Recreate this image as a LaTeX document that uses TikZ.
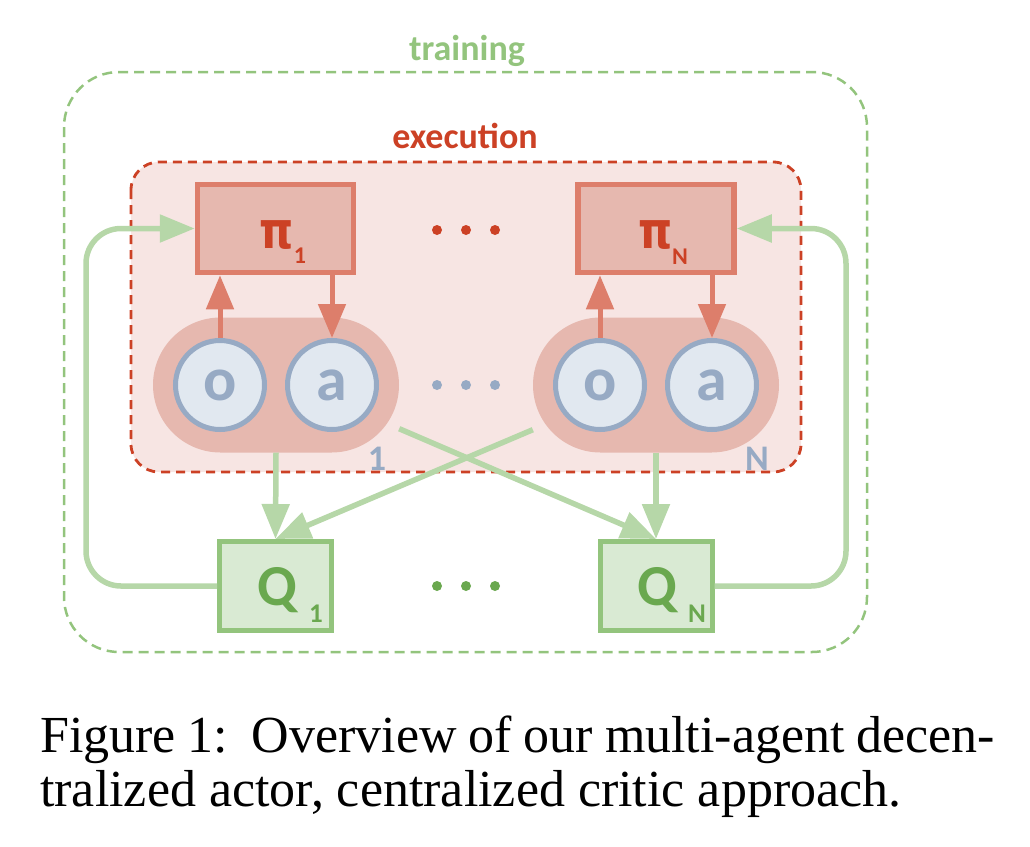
\documentclass[tikz,border=0pt]{standalone}
\usepackage{fontspec}
\setmainfont{Liberation Serif}
\newfontfamily\labfont{Carlito}
\newfontfamily\pifont[FakeStretch=0.85]{DejaVu Sans}
\usetikzlibrary{arrows.meta,calc}
\definecolor{trgreen}{HTML}{93C47D}
\definecolor{argreen}{HTML}{B6D7A8}
\definecolor{txgreen}{HTML}{6AA84F}
\definecolor{qfill}{HTML}{D9EAD3}
\definecolor{exred}{HTML}{CC4125}
\definecolor{exfill}{HTML}{F7E5E3}
\definecolor{pifill}{HTML}{E6B8AF}
\definecolor{piline}{HTML}{DD7E6B}
\definecolor{cfill}{HTML}{E1E8F0}
\definecolor{cline}{HTML}{97AAC4}
\tikzset{
  lab/.style={font=\labfont\bfseries\fontsize{36}{36}\selectfont, inner sep=0pt, anchor=base},
  pibox/.style={draw=piline, fill=pifill, line width=5.5pt, minimum width=156pt, minimum height=88pt, inner sep=0pt},
  qbox/.style={draw=trgreen, fill=qfill, line width=5pt, minimum width=112pt, minimum height=89pt, inner sep=0pt},
  pill/.style={fill=pifill, minimum width=246pt, minimum height=135pt, rounded corners=67.5pt, inner sep=0pt},
  obs/.style={circle, draw=cline, fill=cfill, line width=5pt, minimum size=89pt, inner sep=0pt, text=cline, font=\labfont\bfseries\fontsize{62}{62}\selectfont},
  rarrow/.style={draw=piline, line width=5pt, -{Triangle[length=34pt,width=27pt]}},
  garrow/.style={draw=argreen, line width=5.5pt, -{Triangle[length=35pt,width=27pt]}},
  bigsym/.style={font=\labfont\bfseries\fontsize{58}{58}\selectfont, inner sep=0pt, anchor=base},
  pisym/.style={font=\pifont\bfseries\fontsize{51}{51}\selectfont, inner sep=0pt, anchor=base},
  subsym/.style={font=\labfont\bfseries\fontsize{24}{24}\selectfont, inner sep=0pt, anchor=base},
  dotstyle/.style={circle, inner sep=0pt, minimum size=10pt},
  captext/.style={font=\fontsize{52}{52}\selectfont, inner sep=0pt, anchor=base west}
}
\begin{document}
\begin{tikzpicture}[x=1pt,y=-1pt]
\useasboundingbox (0,0) rectangle (1030,846);
% training box
\draw[trgreen, line width=2.5pt, dash pattern=on 10pt off 6pt, rounded corners=55pt] (64,72) rectangle (867,652);
\node[lab, text=trgreen] (trlab) at (467,60) {training};
% execution box
\draw[exred, fill=exfill, line width=2.8pt, dash pattern=on 9pt off 6pt, rounded corners=28pt] (131,162) rectangle (801,472);
\node[lab, text=exred] (exlab) at (465,148) {execution};
% pills
\node[pill] (pill1) at (276,385) {};
\node[pill] (pillN) at (656,385) {};
\node[obs] (o1) at (220,385) {o};
\node[obs] (a1) at (332,385) {a};
\node[obs] (oN) at (600,385) {o};
\node[obs] (aN) at (712,385) {a};
\node[lab, text=cline] (n1) at (377,470) {1};
\node[lab, text=cline] (nN) at (757,470) {N};
% policy boxes
\node[pibox] (p1) at (275.5,228.5) {};
\node[pibox] (pN) at (656,228.5) {};
\node[pisym, text=exred] (p1t) at (277,248) {π};
\node[subsym, text=exred] (p1s) at (300,263) {1};
\node[pisym, text=exred] (pNt) at (656,248) {π};
\node[subsym, text=exred] (pNs) at (680,264) {N};
% red arrows
\draw[rarrow] (o1.north) -- (o1.north |- p1.south);
\draw[rarrow] (a1.north |- p1.south) -- (a1.north);
\draw[rarrow] (oN.north) -- (oN.north |- pN.south);
\draw[rarrow] (aN.north |- pN.south) -- (aN.north);
% dots
\foreach \x/\c/\y/\n in {437/exred/230/r1,466/exred/230/r2,495/exred/230/r3,437/cline/385/b1,466/cline/385/b2,495/cline/385/b3,437/txgreen/586/g1,466/txgreen/586/g2,495/txgreen/586/g3}
  \node[dotstyle, fill=\c] (dot\n) at (\x,\y) {};
% critics
\node[qbox] (Q1) at (275.5,586) {};
\node[qbox] (QN) at (656,586) {};
\node[bigsym, text=txgreen] (Q1t) at (277,605) {Q};
\node[subsym, text=txgreen, font=\labfont\bfseries\fontsize{27}{27}\selectfont] (Q1s) at (316,622) {1};
\node[bigsym, text=txgreen] (QNt) at (657,605) {Q};
\node[subsym, text=txgreen, font=\labfont\bfseries\fontsize{27}{27}\selectfont] (QNs) at (697,622) {N};
% green arrows
\draw[garrow] (pill1.south) -- (Q1.north);
\draw[garrow] (pillN.south) -- (QN.north);
\draw[garrow] ($(pillN.south west)+(0,-23)$) -- (Q1.north);
\draw[garrow] ($(pill1.south east)+(0,-24)$) -- (QN.north);
% feedback
\coordinate (fbL) at (86,400);
\coordinate (fbR) at (846,400);
\draw[garrow, rounded corners=35pt] (Q1.west) -| (fbL) |- (p1.west);
\draw[garrow, rounded corners=35pt] (QN.east) -| (fbR) |- (pN.east);
% caption
\node[captext] (cap1) at (40,752) {\hbox to 955pt{Figure 1:\ \ Overview of our multi-agent decen-}};
\node[captext] (cap2) at (40,806) {tralized actor, centralized critic approach.};
\end{tikzpicture}
\end{document}
